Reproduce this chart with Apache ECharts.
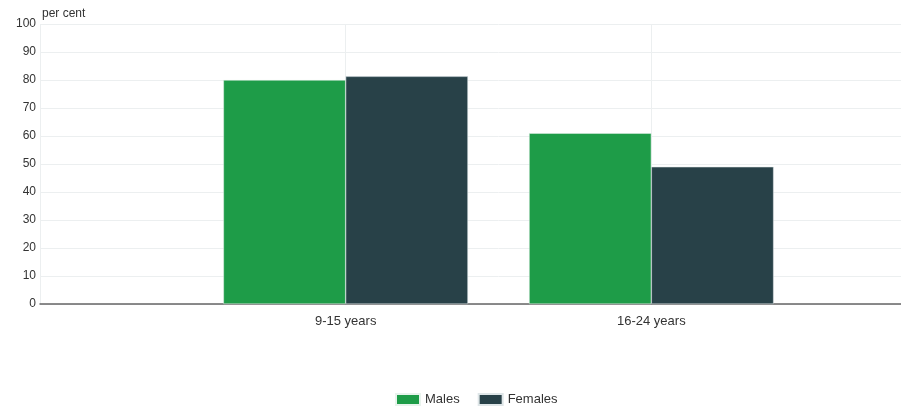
<!DOCTYPE html>
<html>
<head>
<meta charset="utf-8">
<script src="https://cdn.jsdelivr.net/npm/echarts@6/dist/echarts.min.js"></script>
<style>html,body{margin:0;padding:0;background:#fff;overflow:hidden;width:901px;height:409px}#c{width:960px;height:409px}</style>
</head>
<body>
<div id="c"></div>
<script>
const categories = ['', '9-15 years', '16-24 years', ''];
const males = [null, 80, 61, null];
const females = [null, 81.3, 49, null];
const yTicks = [0, 10, 20, 30, 40, 50, 60, 70, 80, 90, 100];
const yUnit = 'per cent';

const chart = echarts.init(document.getElementById('c'), null, {renderer: 'canvas'});
const font = 'Liberation Sans, Arial, sans-serif';
chart.setOption({
  animation: false,
  textStyle: {fontFamily: font},
  grid: {left: 40, top: 24, bottom: 105, right: 2, containLabel: false},
  graphic: [{
    type: 'text', left: 42, top: 8,
    style: {text: yUnit, fill: '#333', fontSize: 12, fontFamily: font}
  }],
  legend: {
    top: 388, left: 390,
    itemWidth: 24, itemHeight: 11, itemGap: 18,
    icon: 'rect',
    textStyle: {fontSize: 13, color: '#333', fontFamily: font},
    data: ['Males', 'Females']
  },
  xAxis: {
    type: 'category',
    data: categories,
    boundaryGap: false,
    axisLine: {lineStyle: {color: '#666', width: 1.5}},
    axisTick: {show: false},
    axisLabel: {color: '#333', fontSize: 13, margin: 11, fontFamily: font},
    splitLine: {show: true, lineStyle: {color: '#eceff0', width: 1}}
  },
  yAxis: {
    type: 'value',
    min: yTicks[0], max: yTicks[yTicks.length - 1], interval: 10,
    axisLine: {show: false},
    axisTick: {show: false},
    axisLabel: {color: '#333', fontSize: 12, margin: 4, fontFamily: font},
    splitLine: {lineStyle: {color: '#eceff0', width: 1}}
  },
  series: [
    {name: 'Males', type: 'bar', data: males, barWidth: '40%', barGap: '0%',
     itemStyle: {color: '#1e9c48', borderColor: '#e8f3ec', borderWidth: 0.5}},
    {name: 'Females', type: 'bar', data: females, barWidth: '40%', barGap: '0%',
     itemStyle: {color: '#284148', borderColor: '#dfe6e8', borderWidth: 0.5}}
  ]
});
</script>
</body>
</html>
